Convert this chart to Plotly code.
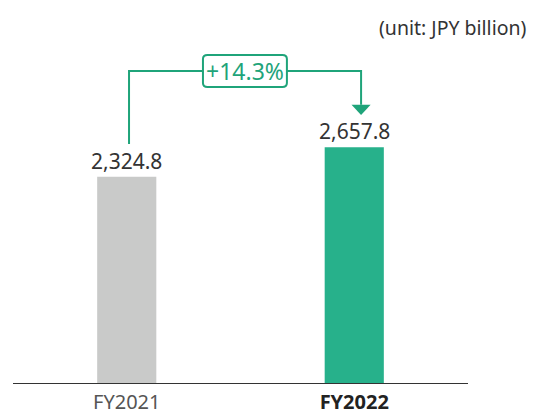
import plotly.graph_objects as go

categories = ["FY2021", "FY2022"]
values = [2324.8, 2657.8]
value_labels = ["2,324.8", "2,657.8"]
growth_label = "+14.3%"
unit_label = "(unit: JPY billion)"

bar_colors = ["#c9cac9", "#27b18b"]
line_green = "#1fa47a"
FONT = "Noto Sans"

fig = go.Figure()
fig.add_trace(go.Bar(
    x=[0, 1], y=values, width=0.26,
    marker=dict(color=bar_colors, line=dict(width=0)),
    hoverinfo="skip", showlegend=False,
))

# value labels
for i, (v, t) in enumerate(zip(values, value_labels)):
    fig.add_annotation(x=i, y=v, text=t, showarrow=False, yanchor="bottom",
                       yshift=0, font=dict(family=FONT, size=21, color="#333333"))

# connector
y_top = max(values) + 860
xl, xr = 0.01, 1.03
fig.add_shape(type="path", xref="x", yref="y",
              path=f"M {xl},{values[0]+370} L {xl},{y_top} L {xr},{y_top} L {xr},{values[1]+480}",
              line=dict(color=line_green, width=2))
# arrow head
aw = 0.042
fig.add_shape(type="path", xref="x", yref="y",
              path=f"M {xr-aw},{values[1]+480} L {xr+aw},{values[1]+480} L {xr},{values[1]+364} Z",
              fillcolor=line_green, line=dict(color=line_green, width=0))
# rounded box
bx0, bx1 = 0.335, 0.704
by0, by1 = y_top - 180, y_top + 181
rx, ry = 0.02, 45
box = (f"M {bx0+rx},{by0} L {bx1-rx},{by0} Q {bx1},{by0} {bx1},{by0+ry} "
       f"L {bx1},{by1-ry} Q {bx1},{by1} {bx1-rx},{by1} L {bx0+rx},{by1} "
       f"Q {bx0},{by1} {bx0},{by1-ry} L {bx0},{by0+ry} Q {bx0},{by0} {bx0+rx},{by0} Z")
fig.add_shape(type="path", xref="x", yref="y", path=box,
              fillcolor="white", line=dict(color=line_green, width=2))
fig.add_annotation(x=(bx0+bx1)/2, y=y_top, text=growth_label, showarrow=False,
                   font=dict(family=FONT, size=23, color=line_green))

# unit
fig.add_annotation(xref="paper", yref="paper", x=1.134, y=1.035, xanchor="right",
                   yanchor="middle", text=unit_label, showarrow=False,
                   font=dict(family=FONT, size=19.5, color="#333333"))

fig.update_layout(
    width=533, height=414,
    margin=dict(l=13, r=65, t=40, b=31),
    plot_bgcolor="white", paper_bgcolor="white",
    xaxis=dict(range=[-0.5, 1.5], tickvals=[0, 1],
               ticktext=["<span style='color:#555555'>FY2021</span>",
                         "<b>FY2022</b>"],
               showline=True, linecolor="#333333", linewidth=1,
               showgrid=False, zeroline=False, ticks="", ticklabelstandoff=1,
               automargin=False,
               tickfont=dict(family=FONT, size=20, color="#222222")),
    yaxis=dict(range=[0, 3868], visible=False, showgrid=False, zeroline=False,
               automargin=False),
)

fig.write_html("out.html", config={"displayModeBar": False},
               post_script="document.body.style.margin='0';document.body.style.overflow='hidden';")
